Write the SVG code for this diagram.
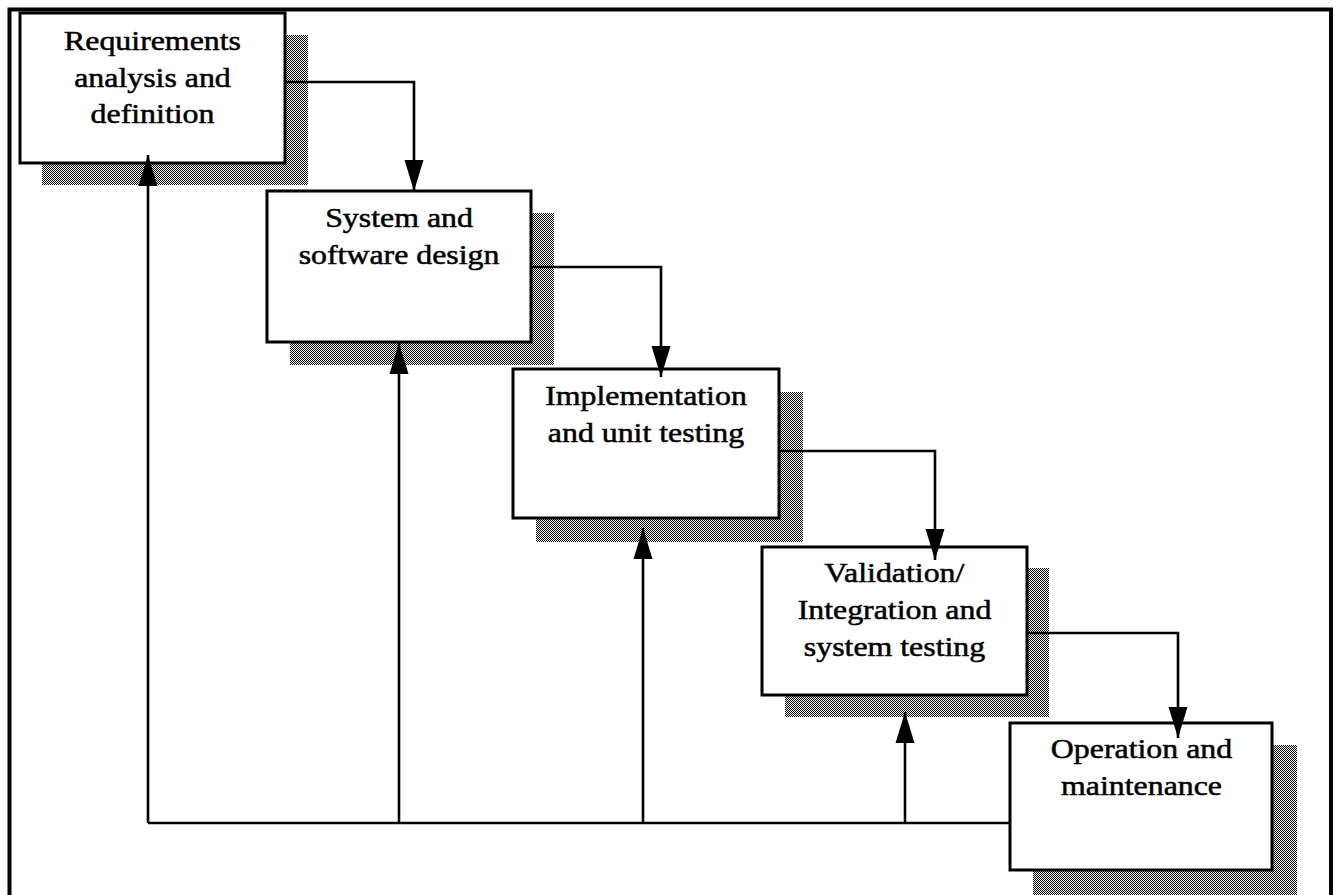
<svg xmlns="http://www.w3.org/2000/svg" width="1339" height="895" viewBox="0 0 1339 895">
<defs>
<pattern id="dither" width="2" height="2" patternUnits="userSpaceOnUse">
<rect width="2" height="2" fill="#fff"/>
<rect x="0" y="0" width="1" height="1" fill="#000"/>
<rect x="1" y="1" width="1" height="1" fill="#000"/>
</pattern>
<marker id="ah" markerUnits="userSpaceOnUse" markerWidth="32" markerHeight="20" viewBox="0 0 32 20" refX="31" refY="10" orient="auto">
<path d="M0,0.5 L31,10 L0,19.5 z" fill="#000"/>
</marker>
<style>
.shadow{fill:url(#dither);stroke:none}
.box{fill:#fff;stroke:#000;stroke-width:3}
.lbl{font-family:"Liberation Serif","Times New Roman",serif;font-size:27px;text-anchor:middle;fill:#000;stroke:#000;stroke-width:0.5}
.conn{fill:none;stroke:#000;stroke-width:2.6}
.arr{fill:none;stroke:#000;stroke-width:2.6;marker-end:url(#ah)}
</style>
</defs>
<rect width="1339" height="895" fill="#fff"/>
<path d="M9.5,895 V9.5 H1331 V895" fill="none" stroke="#000" stroke-width="4"/>

<g id="node-requirements">
<rect class="shadow" x="42" y="35" width="266" height="150"/>
<rect class="box" x="20" y="13" width="265" height="150"/>
<text class="lbl" transform="translate(152.5,50) scale(1.18,1)">Requirements</text>
<text class="lbl" transform="translate(152.5,87) scale(1.18,1)">analysis and</text>
<text class="lbl" transform="translate(152.5,123) scale(1.18,1)">definition</text>
</g>

<g id="node-design">
<rect class="shadow" x="290" y="213" width="264" height="152"/>
<rect class="box" x="267" y="191" width="264" height="151"/>
<text class="lbl" transform="translate(399,227) scale(1.18,1)">System and</text>
<text class="lbl" transform="translate(399,264) scale(1.18,1)">software design</text>
</g>

<g id="node-implementation">
<rect class="shadow" x="536" y="392" width="267" height="150"/>
<rect class="box" x="513" y="369" width="266" height="149"/>
<text class="lbl" transform="translate(646,405) scale(1.18,1)">Implementation</text>
<text class="lbl" transform="translate(646,442) scale(1.18,1)">and unit testing</text>
</g>

<g id="node-validation">
<rect class="shadow" x="785" y="568" width="264" height="149"/>
<rect class="box" x="762" y="547" width="265" height="148"/>
<text class="lbl" transform="translate(894.5,582) scale(1.18,1)">Validation/</text>
<text class="lbl" transform="translate(894.5,619) scale(1.18,1)">Integration and</text>
<text class="lbl" transform="translate(894.5,656) scale(1.18,1)">system testing</text>
</g>

<g id="node-operation">
<rect class="shadow" x="1033" y="745" width="264" height="150"/>
<rect class="box" x="1010" y="723" width="262" height="147"/>
<text class="lbl" transform="translate(1141.5,758) scale(1.18,1)">Operation and</text>
<text class="lbl" transform="translate(1141.5,795) scale(1.18,1)">maintenance</text>
</g>

<g id="connectors">
<path class="arr" d="M285,82 H414 V191"/>
<path class="arr" d="M531,267 H661 V377"/>
<path class="arr" d="M779,451 H935 V560"/>
<path class="arr" d="M1027,633 H1178 V738"/>
<path class="conn" d="M148,823 H1010"/>
<path class="arr" d="M148,823 V155"/>
<path class="arr" d="M399,823 V343"/>
<path class="arr" d="M643,823 V528"/>
<path class="arr" d="M905,823 V712"/>
</g>
</svg>
